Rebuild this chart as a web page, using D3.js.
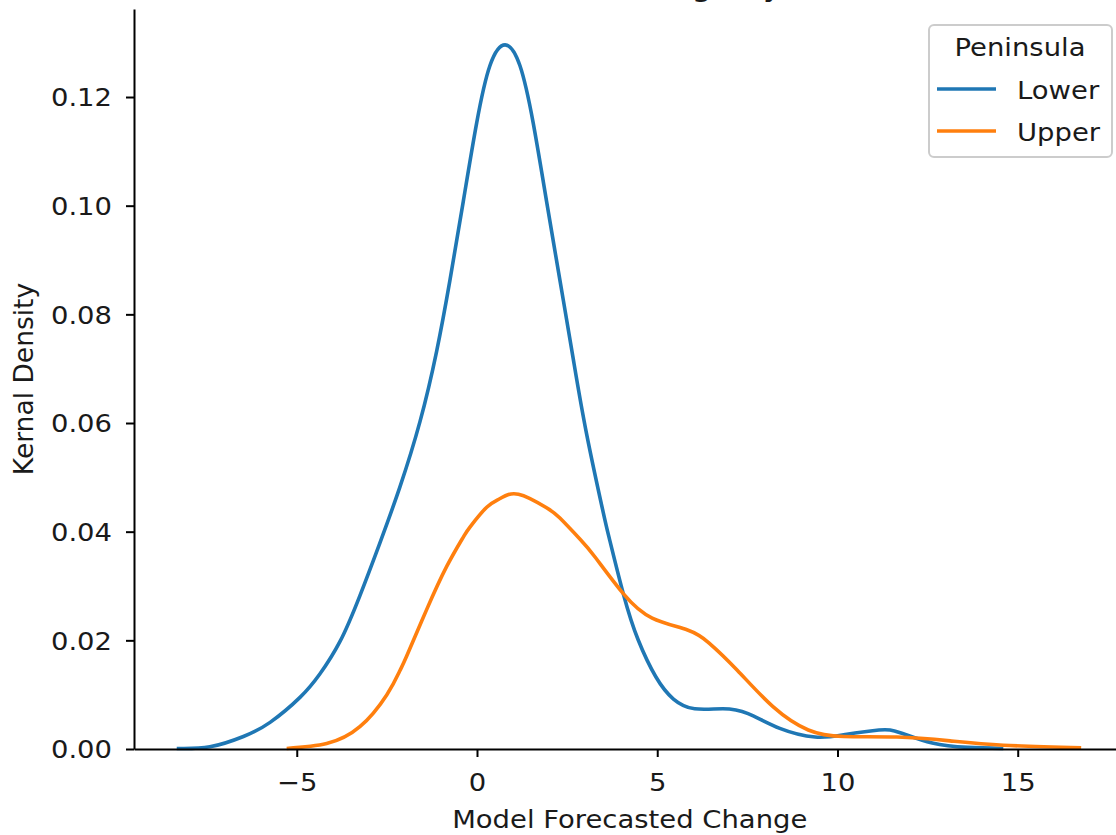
<!DOCTYPE html>
<html>
<head>
<meta charset="utf-8">
<script src="https://cdn.jsdelivr.net/npm/d3@7"></script>
<style>
  html, body { margin: 0; padding: 0; background: #fff; }
  svg { display: block; }
  text { font-family: "DejaVu Sans", sans-serif; fill: #1a1a1a; }
</style>
</head>
<body>
<svg id="chart" width="1116" height="835"></svg>
<script>
// ---- data ----
const lowerX = [-8.33,-7.41,-6.48,-5.74,-4.91,-4.36,-3.80,-3.25,-2.69,-2.14,-1.58,-1.12,-0.75,-0.38,-0.01,0.36,0.78,1.19,1.56,1.93,2.30,2.67,3.04,3.50,3.68,4.07,4.47,4.96,5.45,6.04,6.82,7.52,8.40,9.38,10.17,11.15,11.74,12.63,13.61,14.60];
const lowerY = [0.0001,0.0004,0.0023,0.0049,0.0095,0.0138,0.0198,0.0282,0.0380,0.0482,0.0603,0.0732,0.0863,0.1008,0.1152,0.1258,0.1296,0.1258,0.1152,0.1008,0.0863,0.0718,0.0580,0.0436,0.0385,0.0283,0.0201,0.0133,0.0092,0.0074,0.0074,0.0065,0.0038,0.0022,0.0026,0.0035,0.0030,0.0011,0.0003,0.0001];
const upperX = [-5.28,-4.17,-3.25,-2.50,-2.14,-1.95,-1.40,-0.84,-0.38,-0.19,0.27,0.64,1.15,1.93,2.30,2.86,3.29,4.07,4.86,5.84,6.44,7.22,8.21,9.19,10.17,11.65,13.12,14.60,16.76];
const upperY = [0.0001,0.0010,0.0041,0.0100,0.0144,0.0171,0.0256,0.0336,0.0390,0.0409,0.0445,0.0461,0.0469,0.0444,0.0425,0.0386,0.0352,0.0285,0.0241,0.0219,0.0195,0.0145,0.0078,0.0035,0.0023,0.0022,0.0015,0.0007,0.0002];
const seriesNames = ["Lower", "Upper"];
const seriesColors = ["#1f77b4", "#ff7f0e"];
const xTicks = [-5, 0, 5, 10, 15];
const yTicks = [0.00, 0.02, 0.04, 0.06, 0.08, 0.10, 0.12];
const titleText = "Model Forecasted Change by Peninsula";
const xLabel = "Model Forecasted Change";
const yLabel = "Kernal Density";
const legendTitle = "Peninsula";

// ---- layout ----
const SX = 1.12;          // horizontal stretch of the reference's glyphs
const FS = 24.5;          // font size
const M = { left: 134, right: 1125.5, top: 9, bottom: 749 };

const svg = d3.select("#chart");
const x = d3.scaleLinear().domain([-9.515, 17.99]).range([M.left, M.right]);
const y = d3.scaleLinear().domain([0, 0.1362]).range([M.bottom, M.top]);

function stext(g, tx, ty, str, size, anchor) {
  return g.append("text")
    .attr("transform", `translate(${tx},${ty}) scale(${SX},1)`)
    .attr("text-anchor", anchor || "start")
    .style("font-size", size + "px")
    .text(str);
}

// curves
const line = d3.line().x(d => x(d[0])).y(d => y(Math.max(0, d[1]))).curve(d3.curveNatural);
const series = [d3.zip(lowerX, lowerY), d3.zip(upperX, upperY)];
series.forEach((s, i) => {
  svg.append("path").datum(s)
    .attr("d", line)
    .attr("fill", "none")
    .attr("stroke", seriesColors[i])
    .attr("stroke-width", 3.6)
    .attr("stroke-linejoin", "round")
    .attr("stroke-linecap", "butt");
});

// x axis
const gx = svg.append("g").attr("transform", `translate(0,${M.bottom})`)
  .call(d3.axisBottom(x).tickValues(xTicks).tickSize(8).tickSizeOuter(0)
    .tickFormat(d => d < 0 ? "\u2212" + Math.abs(d) : String(d)));
gx.select(".domain").attr("stroke", "#000").attr("stroke-width", 2);
gx.selectAll(".tick line").attr("stroke", "#000").attr("stroke-width", 2);
gx.selectAll(".tick text")
  .attr("y", 0).attr("dy", 0)
  .attr("transform", `translate(0,42) scale(${SX},1)`)
  .style("font-size", FS + "px").style("font-family", "DejaVu Sans").attr("fill", "#1a1a1a");

// y axis
const gy = svg.append("g").attr("transform", `translate(${M.left},0)`)
  .call(d3.axisLeft(y).tickValues(yTicks).tickSize(8).tickSizeOuter(0)
    .tickFormat(d3.format(".2f")));
gy.select(".domain").attr("stroke", "#000").attr("stroke-width", 2);
gy.selectAll(".tick line").attr("stroke", "#000").attr("stroke-width", 2);
gy.selectAll(".tick text")
  .attr("x", 0).attr("dy", "0.36em")
  .attr("transform", `translate(-22,0) scale(${SX},1)`)
  .style("font-size", FS + "px").style("font-family", "DejaVu Sans").attr("fill", "#1a1a1a");

// axis labels
stext(svg, (M.left + M.right) / 2, 828, xLabel, FS, "middle");
svg.append("text")
  .attr("transform", `translate(33,${(M.top + M.bottom) / 2}) rotate(-90)`)
  .attr("text-anchor", "middle")
  .style("font-size", "26.5px")
  .text(yLabel);

// title (cut off by the top edge in the reference)
stext(svg, (M.left + M.right) / 2, -4, titleText, 29, "middle");

// legend
const lg = svg.append("g");
lg.append("rect")
  .attr("x", 929).attr("y", 25).attr("width", 183).attr("height", 132)
  .attr("rx", 5).attr("ry", 5)
  .attr("fill", "#fff").attr("fill-opacity", 0.8)
  .attr("stroke", "#cccccc").attr("stroke-width", 2);
stext(lg, 1020, 56, legendTitle, FS, "middle");
seriesNames.forEach((name, i) => {
  const ly = 89 + i * 42;
  lg.append("line")
    .attr("x1", 937).attr("x2", 996).attr("y1", ly).attr("y2", ly)
    .attr("stroke", seriesColors[i]).attr("stroke-width", 3.6);
  stext(lg, 1017, ly + 10, name, FS, "start");
});
</script>
</body>
</html>
